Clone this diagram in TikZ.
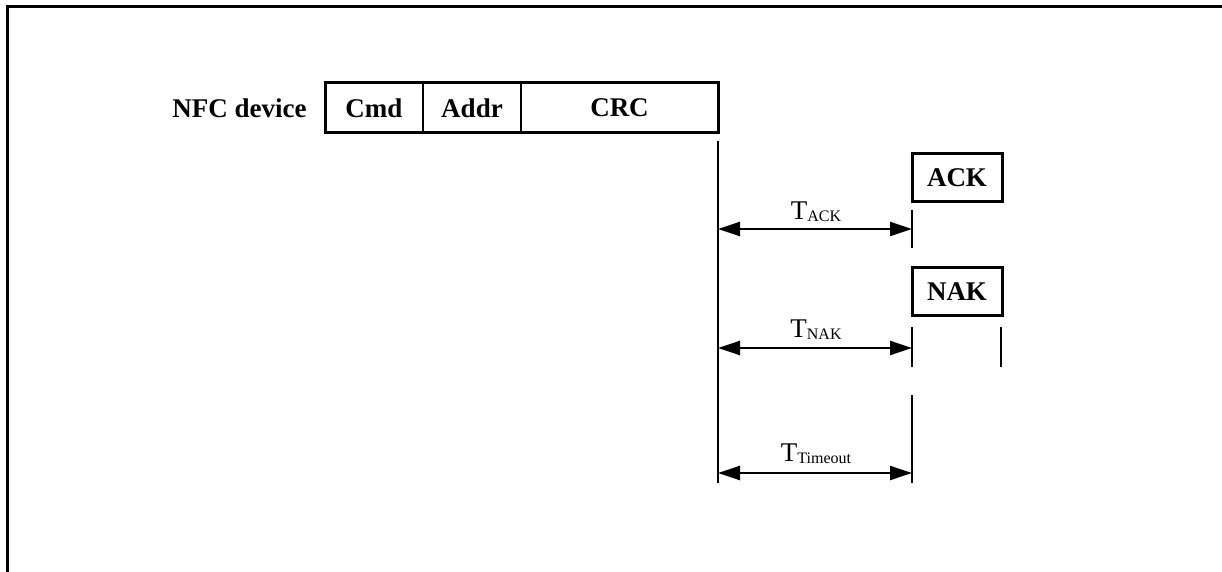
\documentclass[tikz,border=0pt]{standalone}
\usepackage{fontspec}
\setmainfont{Liberation Serif}
\usetikzlibrary{arrows.meta, positioning}
\newcommand{\tlab}[1]{T\raisebox{-1pt}{\fontsize{8}{8}\selectfont #1}}

\begin{document}
\begin{tikzpicture}[x=0.5pt, y=-0.5pt,
    fd/.style={rectangle, draw, line width=1pt, outer sep=0pt, inner sep=0pt,
        minimum height=25pt, font=\fontsize{13.5}{16}\selectfont\bfseries},
    rp/.style={fd, line width=1.5pt, minimum width=45pt, minimum height=24pt},
    tk/.style={line width=1pt},
    ar/.style={{Triangle[length=11pt,width=7pt]}-{Triangle[length=11pt,width=7pt]}, line width=1.2pt},
    lb/.style={font=\fontsize{13.5}{16}\selectfont, inner sep=0pt, anchor=base},
    node distance=0pt]
\useasboundingbox (0,0) rectangle (1222,572);
\draw[line width=1.5pt] (7,600) -- (7,7) -- (1240,7);
\node[fd, minimum width=49pt] (cmd) at (374,108) {Cmd};
\node[fd, minimum width=49pt, right=of cmd] (addr) {Addr};
\node[fd, minimum width=98.5pt, right=of addr] (crc) {CRC};
\node[left=9pt of cmd, inner sep=0pt, font=\fontsize{13.5}{16}\selectfont\bfseries] (dev) {NFC device};
\draw[line width=1.5pt] (cmd.north west) rectangle (crc.south east);
\coordinate (m0) at (718,141);
\coordinate (m1) at (718,483);
\draw[tk] (m0) -- (m1);
\node[rp] (ack) at (957,177.5) {ACK};
\node[rp] (nak) at (957,291.5) {NAK};
\coordinate (ka0) at (912,210);
\coordinate (ka1) at (912,248);
\coordinate (kn0) at (912,327);
\coordinate (kn1) at (912,367);
\coordinate (ke0) at (1001,327);
\coordinate (ke1) at (1001,367);
\coordinate (kt0) at (912,395);
\coordinate (kt1) at (912,483);
\draw[tk] (ka0) -- (ka1);
\draw[tk] (kn0) -- (kn1);
\draw[tk] (ke0) -- (ke1);
\draw[tk] (kt0) -- (kt1);
\coordinate (aL) at (718,229);
\coordinate (aR) at (912,229);
\coordinate (nL) at (718,348);
\coordinate (nR) at (912,348);
\coordinate (tL) at (718,473);
\coordinate (tR) at (912,473);
\draw[ar] (aL) -- (aR);
\draw[ar] (nL) -- (nR);
\draw[ar] (tL) -- (tR);
\node[lb] (tack) at (816,220) {\tlab{ACK}};
\node[lb] (tnak) at (816,338) {\tlab{NAK}};
\node[lb] (tto) at (816,462) {\tlab{Timeout}};
\end{tikzpicture}
\end{document}
